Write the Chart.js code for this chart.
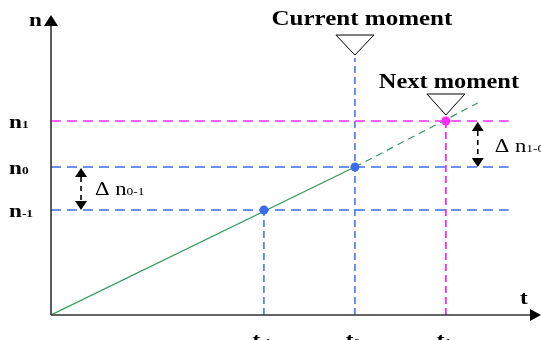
<!DOCTYPE html>
<html>
<head>
<meta charset="utf-8">
<script src="https://cdn.jsdelivr.net/npm/chart.js@4"></script>
<style>
  html, body { margin: 0; padding: 0; background: #fff; }
  #wrap { width: 541px; height: 340px; position: relative; }
</style>
</head>
<body>
<div id="wrap"><canvas id="momentChart"></canvas></div>
<script>
// Moments on the time axis: t-1, t0, t1
const tValues = [2.34, 3.34, 4.34];
const tSubs = ["-1", "0", "1"];
// Matching n values: n-1, n0, n1
const nValues = [1.05, 1.48, 1.94];
const nSubs = ["-1", "0", "1"];
// Projection of the trend past t1
const trendEnd = [4.69, 2.12];
// Right end of the horizontal reference lines
const refLineEnd = 5.03;
// Axis ranges
const tMax = 5.385;
const nMax = 2.97;

const BLUE = "#3a6ef0";
const MAGENTA = "#ff2bff";
const GREEN = "#2f9a5c";
const AXIS = "#333333";
const SERIF = "'Liberation Serif', 'DejaVu Serif', serif";
const STRETCH = 1.22;

// straight segment dataset helper
function segment(points, color, dash, width, order) {
    return {
        data: points.map(p => ({ x: p[0], y: p[1] })),
        showLine: true,
        borderColor: color,
        borderWidth: width,
        borderDash: dash,
        pointRadius: 0,
        fill: false,
        order: order
    };
}

const datasets = [
    // trend line
    segment([[0, 0], [tValues[1], nValues[1]]], GREEN, [], 1.2, 3),
    segment([[tValues[1], nValues[1]], trendEnd], GREEN, [7, 5], 1.2, 3),
    // horizontal reference lines
    segment([[0, nValues[2]], [refLineEnd, nValues[2]]], MAGENTA, [10, 6], 1.4, 2),
    segment([[0, nValues[1]], [refLineEnd, nValues[1]]], BLUE, [10, 6], 1.4, 2),
    segment([[0, nValues[0]], [refLineEnd, nValues[0]]], BLUE, [10, 6], 1.4, 2),
    // vertical drop lines
    segment([[tValues[0], 0], [tValues[0], nValues[0]]], BLUE, [7, 4], 1.5, 2),
    segment([[tValues[1], 0], [tValues[1], 2.57]], BLUE, [7, 4], 1.5, 2),
    segment([[tValues[2], 0], [tValues[2], nValues[2]]], MAGENTA, [7, 4], 1.8, 2),
    // observed points
    {
        data: tValues.map((t, i) => ({ x: t, y: nValues[i] })),
        showLine: false,
        pointRadius: 4.5,
        pointBorderWidth: 0,
        pointBackgroundColor: [BLUE, BLUE, MAGENTA],
        order: 0
    }
];

// text with horizontal stretch, optional subscript
function drawLabel(ctx, x, y, main, sub, size, bold, align) {
    const weight = bold ? "bold " : "";
    ctx.save();
    ctx.fillStyle = "#000";
    ctx.textBaseline = "alphabetic";
    ctx.font = weight + size + "px " + SERIF;
    const mainW = ctx.measureText(main).width;
    ctx.font = weight + Math.round(size * 0.6) + "px " + SERIF;
    const subW = sub ? ctx.measureText(sub).width : 0;
    const total = (mainW + subW) * STRETCH;
    let left = x;
    if (align === "center") left = x - total / 2;
    ctx.translate(left, y);
    ctx.scale(STRETCH, 1);
    ctx.font = weight + size + "px " + SERIF;
    ctx.fillText(main, 0, 0);
    if (sub) {
        ctx.font = weight + Math.round(size * 0.6) + "px " + SERIF;
        ctx.fillText(sub, mainW, 0);
    }
    ctx.restore();
}

function drawTriangle(ctx, cx, apexY, topY, half) {
    ctx.save();
    ctx.beginPath();
    ctx.moveTo(cx - half, topY);
    ctx.lineTo(cx + half, topY);
    ctx.lineTo(cx, apexY);
    ctx.closePath();
    ctx.fillStyle = "#fff";
    ctx.fill();
    ctx.strokeStyle = "#000";
    ctx.lineWidth = 1;
    ctx.stroke();
    ctx.restore();
}

function drawDoubleArrow(ctx, x, yTop, yBottom) {
    const head = 9, half = 6;
    ctx.save();
    ctx.fillStyle = "#000";
    ctx.strokeStyle = "#000";
    ctx.lineWidth = 1.6;
    ctx.setLineDash([5, 4]);
    ctx.beginPath();
    ctx.moveTo(x, yTop + head);
    ctx.lineTo(x, yBottom - head);
    ctx.stroke();
    ctx.setLineDash([]);
    ctx.beginPath();
    ctx.moveTo(x, yTop);
    ctx.lineTo(x - half, yTop + head);
    ctx.lineTo(x + half, yTop + head);
    ctx.closePath();
    ctx.fill();
    ctx.beginPath();
    ctx.moveTo(x, yBottom);
    ctx.lineTo(x - half, yBottom - head);
    ctx.lineTo(x + half, yBottom - head);
    ctx.closePath();
    ctx.fill();
    ctx.restore();
}

// axes, arrows, markers and all labels
const diagramPlugin = {
    id: "diagram",
    afterDraw(chart) {
        const ctx = chart.ctx;
        const xs = chart.scales.x;
        const ys = chart.scales.y;
        const x0 = xs.getPixelForValue(0);
        const y0 = ys.getPixelForValue(0);
        const right = chart.width;

        // axes
        ctx.save();
        ctx.strokeStyle = AXIS;
        ctx.fillStyle = "#000";
        ctx.lineWidth = 1.6;
        ctx.beginPath();
        ctx.moveTo(x0, y0);
        ctx.lineTo(x0, ys.getPixelForValue(nMax) + 4);
        ctx.moveTo(x0, y0);
        ctx.lineTo(right - 8, y0);
        ctx.stroke();
        // y arrow
        const yTip = ys.getPixelForValue(nMax) - 3;
        ctx.beginPath();
        ctx.moveTo(x0, yTip);
        ctx.lineTo(x0 - 7, yTip + 11);
        ctx.lineTo(x0 + 7, yTip + 11);
        ctx.closePath();
        ctx.fill();
        // x arrow
        ctx.beginPath();
        ctx.moveTo(right, y0);
        ctx.lineTo(right - 11, y0 - 6);
        ctx.lineTo(right - 11, y0 + 6);
        ctx.closePath();
        ctx.fill();
        ctx.restore();

        // axis names
        drawLabel(ctx, x0 - 22, ys.getPixelForValue(nMax) + 8, "n", "", 19, true, "left");
        drawLabel(ctx, right - 21, y0 - 11, "t", "", 19, true, "left");

        // n ticks
        nValues.forEach((n, i) => {
            drawLabel(ctx, 9, ys.getPixelForValue(n) + 7, "n", nSubs[i], 19, true, "left");
        });
        // t ticks
        tValues.forEach((t, i) => {
            drawLabel(ctx, xs.getPixelForValue(t) - 2, y0 + 31, "t", tSubs[i], 19, true, "center");
        });

        // moment markers
        const tc = xs.getPixelForValue(tValues[1]);
        drawTriangle(ctx, tc, ys.getPixelForValue(2.6), ys.getPixelForValue(2.8), 19);
        drawLabel(ctx, tc + 7, ys.getPixelForValue(2.9), "Current moment", "", 20.5, true, "center");
        const tn = xs.getPixelForValue(tValues[2]);
        drawTriangle(ctx, tn, ys.getPixelForValue(2.0), ys.getPixelForValue(2.21), 19);
        drawLabel(ctx, tn + 3, ys.getPixelForValue(2.27), "Next moment", "", 20, true, "center");

        // deltas
        const xd1 = xs.getPixelForValue(0.33);
        drawDoubleArrow(ctx, xd1, ys.getPixelForValue(nValues[1]) + 1, ys.getPixelForValue(nValues[0]));
        drawLabel(ctx, xd1 + 14, (ys.getPixelForValue(nValues[1]) + ys.getPixelForValue(nValues[0])) / 2 + 6,
            "\u0394 n", "0-1", 18.5, false, "left");
        const xd2 = xs.getPixelForValue(trendEnd[0]);
        drawDoubleArrow(ctx, xd2, ys.getPixelForValue(nValues[2]) + 1, ys.getPixelForValue(nValues[1]));
        drawLabel(ctx, xd2 + 17, (ys.getPixelForValue(nValues[2]) + ys.getPixelForValue(nValues[1])) / 2 + 8,
            "\u0394 n", "1-0", 18.5, false, "left");
    }
};

new Chart(document.getElementById("momentChart").getContext("2d"), {
    type: "scatter",
    data: { datasets: datasets },
    options: {
        responsive: true,
        maintainAspectRatio: false,
        animation: false,
        layout: { autoPadding: false, padding: { left: 51, right: 0, top: 18, bottom: 25 } },
        scales: {
            x: { type: "linear", min: 0, max: tMax, display: false },
            y: { type: "linear", min: 0, max: nMax, display: false }
        },
        plugins: {
            legend: { display: false },
            tooltip: { enabled: false }
        }
    },
    plugins: [diagramPlugin]
});
</script>
</body>
</html>
